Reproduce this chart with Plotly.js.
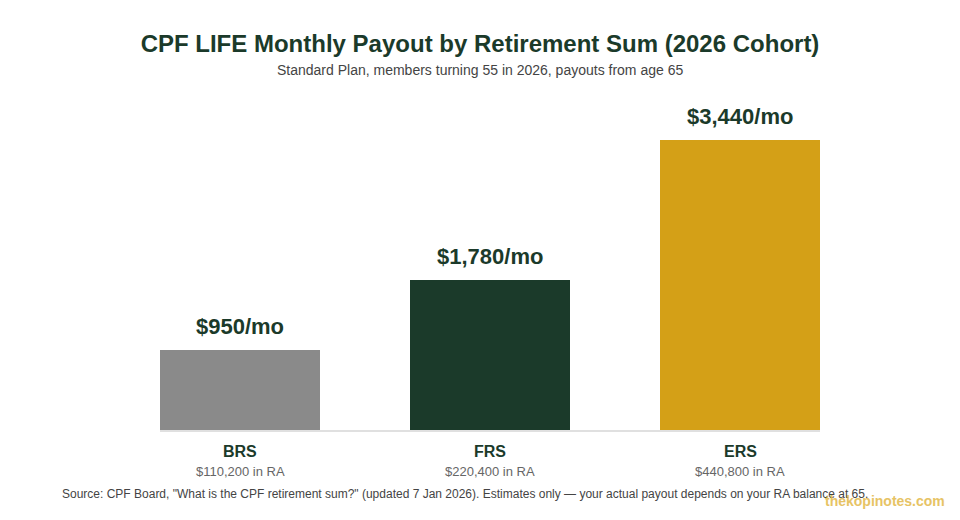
<!DOCTYPE html>
<html>
<head>
<meta charset="utf-8">
<script src="https://cdn.plot.ly/plotly-3.0.1.min.js"></script>
<style>
  html, body { margin: 0; padding: 0; background: #fff; }
  #chart { width: 960px; height: 520px; }
</style>
</head>
<body>
<div id="chart"></div>
<script>
var sums = ["BRS", "FRS", "ERS"];
var payouts = [950, 1780, 3440];
var raBalances = ["$110,200 in RA", "$220,400 in RA", "$440,800 in RA"];
var barColors = ["#8a8a8a", "#1b3a2a", "#d4a017"];

var green = "#1b3a2a";

function money(v){
    return "$" + v.toLocaleString("en-US");
}

var trace = {
    type: "bar",
    x: sums,
    y: payouts,
    marker: {color: barColors},
    hoverinfo: "none"
};

var annotations = [];
for(let i = 0; i < sums.length; i++){
    // value above the bar
    annotations.push({
        x: sums[i], y: payouts[i], xref: "x", yref: "y",
        text: "<b>" + money(payouts[i]) + "/mo</b>",
        showarrow: false, xanchor: "center", yanchor: "bottom", yshift: 9,
        font: {size: 22, color: green}
    });
    // category name under the axis
    annotations.push({
        x: sums[i], y: -0.064, xref: "x", yref: "paper",
        text: "<b>" + sums[i] + "</b>",
        showarrow: false, xanchor: "center", yanchor: "middle",
        font: {size: 16, color: green}
    });
    annotations.push({
        x: sums[i], y: -0.127, xref: "x", yref: "paper",
        text: raBalances[i],
        showarrow: false, xanchor: "center", yanchor: "middle",
        font: {size: 13, color: "#666"}
    });
}

annotations.push({
    x: 0.485, y: 1.091, xref: "paper", yref: "paper",
    text: "Standard Plan, members turning 55 in 2026, payouts from age 65",
    showarrow: false, xanchor: "center", yanchor: "middle",
    font: {size: 14, color: "#444"}
});
annotations.push({
    x: 0.462, y: -0.194, xref: "paper", yref: "paper",
    text: "Source: CPF Board, \"What is the CPF retirement sum?\" (updated 7 Jan 2026). Estimates only \u2014 your actual payout depends on your RA balance at 65.",
    showarrow: false, xanchor: "center", yanchor: "middle",
    font: {size: 12, color: "#444"}
});
annotations.push({
    x: 1.098, y: -0.215, xref: "paper", yref: "paper",
    text: "<b>thekopinotes.com</b>",
    showarrow: false, xanchor: "center", yanchor: "middle",
    opacity: 0.85,
    font: {size: 14, color: "#e3b94a"}
});

var layout = {
    width: 960, height: 520,
    margin: {l: 160, r: 140, t: 100, b: 90},
    paper_bgcolor: "#fff", plot_bgcolor: "#fff",
    font: {family: "Liberation Sans, Arial, sans-serif"},
    title: {
        text: "<b>CPF LIFE Monthly Payout by Retirement Sum (2026 Cohort)</b>",
        x: 0.5, xref: "container", y: 0.917, yref: "container", yanchor: "middle",
        font: {size: 24, color: green}
    },
    bargap: 0.36,
    showlegend: false,
    xaxis: {
        range: [-0.32, 2.32],
        showticklabels: false, ticks: "",
        showline: true, linecolor: "#e0e0e0", linewidth: 2,
        showgrid: false, zeroline: false, fixedrange: true
    },
    yaxis: {
        range: [0, 3914],
        visible: false, showgrid: false, zeroline: false, fixedrange: true
    },
    annotations: annotations
};

Plotly.newPlot("chart", [trace], layout, {displayModeBar: false, staticPlot: true});
</script>
</body>
</html>
